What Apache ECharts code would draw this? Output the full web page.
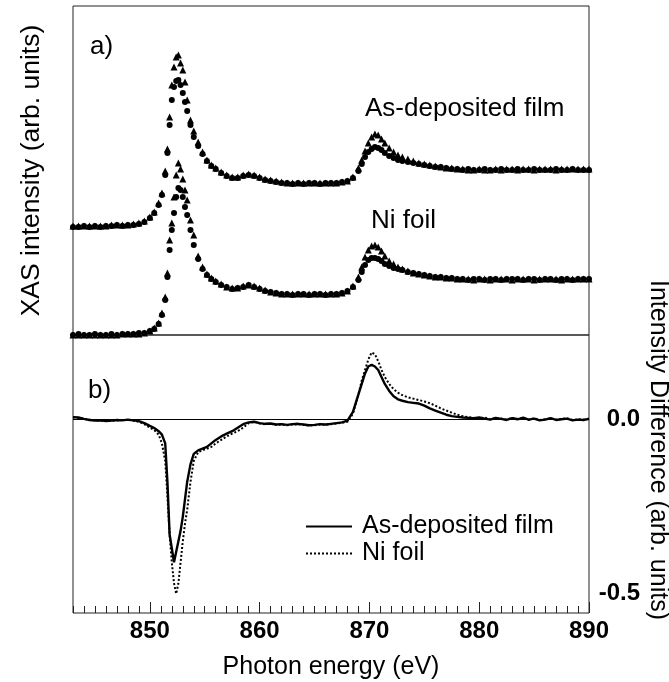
<!DOCTYPE html>
<html>
<head>
<meta charset="utf-8">
<script src="https://cdn.jsdelivr.net/npm/echarts@6.0.0/dist/echarts.min.js"></script>
<style>
  html, body { margin: 0; padding: 0; background: #fff; }
  #chart { width: 669px; height: 682px; }
</style>
</head>
<body>
<div id="chart"></div>
<script>
// photon energy grid (eV), denser around the L3 and L2 edges
const energy = [
  843, 843.5, 844, 844.5, 845, 845.5, 846, 846.5, 847, 847.5, 848, 848.5, 849, 849.5, 850,
  850.4, 850.8, 851.1, 851.4, 851.6, 851.8, 852.0, 852.2, 852.4, 852.6, 852.8, 853.0, 853.2, 853.4,
  853.7, 854.0, 854.4, 854.8, 855.2, 855.6,
  856, 856.5, 857, 857.5, 858, 858.5, 859, 859.5, 860, 860.5, 861, 861.5, 862, 862.5, 863, 863.5,
  864, 864.5, 865, 865.5, 866, 866.5, 867, 867.5, 868, 868.5, 869,
  869.3, 869.6, 869.9, 870.2, 870.5, 870.8, 871.1, 871.4, 871.8, 872.2, 872.6,
  873, 873.5, 874, 874.5, 875, 875.5, 876, 876.5, 877, 877.5, 878, 878.5, 879, 879.5, 880, 880.5,
  881, 881.5, 882, 882.5, 883, 883.5, 884, 884.5, 885, 885.5, 886, 886.5, 887, 887.5, 888, 888.5,
  889, 889.5, 890
]

// panel a) - XAS spectra, as-deposited film is offset upwards
const filmUp = [
  1.09, 1.09, 1.09, 1.09, 1.09, 1.09, 1.09, 1.10, 1.10, 1.10, 1.10, 1.11, 1.12,
  1.14, 1.18, 1.23, 1.32, 1.42, 1.64, 1.86, 2.18, 2.50, 2.68, 2.78, 2.80, 2.72, 2.65, 2.53, 2.35,
  2.15, 2.04, 1.93, 1.83, 1.75, 1.70, 1.67, 1.63, 1.60, 1.58, 1.58, 1.60, 1.61, 1.60,
  1.58, 1.56, 1.55, 1.54, 1.53, 1.52, 1.52, 1.52, 1.52, 1.52, 1.52, 1.52, 1.52, 1.52, 1.52,
  1.53, 1.54, 1.58, 1.67, 1.75, 1.84, 1.92, 1.98, 2.01, 2.00, 1.96, 1.92, 1.87, 1.83, 1.80,
  1.78, 1.76, 1.74, 1.72, 1.71, 1.70, 1.69, 1.68, 1.67, 1.67, 1.66,
  1.66, 1.65, 1.65, 1.66, 1.65, 1.65, 1.66, 1.65, 1.66, 1.66, 1.65, 1.66, 1.66, 1.65, 1.66, 1.66,
  1.66, 1.65, 1.66, 1.66, 1.66, 1.66, 1.66, 1.66
]
const filmDown = [
  1.08, 1.08, 1.09, 1.08, 1.09, 1.08, 1.09, 1.09, 1.10, 1.09, 1.10, 1.10, 1.11,
  1.13, 1.17, 1.22, 1.30, 1.40, 1.60, 1.82, 2.10, 2.35, 2.48, 2.54, 2.55, 2.50, 2.42, 2.33, 2.24,
  2.10, 1.98, 1.89, 1.81, 1.74, 1.69, 1.66, 1.62, 1.59, 1.57, 1.57, 1.59, 1.60, 1.59,
  1.57, 1.55, 1.54, 1.53, 1.52, 1.52, 1.51, 1.52, 1.51, 1.52, 1.52, 1.51, 1.52, 1.52, 1.52,
  1.53, 1.54, 1.57, 1.64, 1.71, 1.78, 1.83, 1.86, 1.88, 1.87, 1.85, 1.82, 1.79, 1.77, 1.75,
  1.74, 1.73, 1.72, 1.71, 1.70, 1.69, 1.68, 1.68, 1.67, 1.66, 1.66,
  1.65, 1.66, 1.65, 1.65, 1.66, 1.65, 1.65, 1.66, 1.65, 1.65, 1.66, 1.65, 1.65, 1.66, 1.65, 1.65,
  1.65, 1.66, 1.65, 1.65, 1.66, 1.65, 1.65, 1.65
]
const foilUp = [
  0.00, 0.00, 0.00, 0.00, 0.00, 0.00, 0.00, 0.00, 0.00, 0.01, 0.01, 0.01, 0.01,
  0.02, 0.04, 0.07, 0.12, 0.22, 0.38, 0.62, 0.95, 1.12, 1.38, 1.60, 1.72, 1.66, 1.56, 1.45, 1.35,
  1.15, 1.00, 0.79, 0.68, 0.61, 0.57, 0.54, 0.51, 0.48, 0.47, 0.47, 0.49, 0.50, 0.49,
  0.47, 0.45, 0.43, 0.42, 0.41, 0.41, 0.41, 0.41, 0.41, 0.41, 0.41, 0.41, 0.41, 0.41, 0.41,
  0.42, 0.44, 0.49, 0.58, 0.68, 0.78, 0.85, 0.89, 0.90, 0.88, 0.84, 0.79, 0.74, 0.71, 0.68,
  0.66, 0.64, 0.62, 0.61, 0.60, 0.59, 0.58, 0.58, 0.57, 0.57, 0.56,
  0.56, 0.56, 0.55, 0.56, 0.56, 0.55, 0.56, 0.56, 0.56, 0.55, 0.56, 0.56, 0.56, 0.55, 0.56, 0.56,
  0.56, 0.56, 0.55, 0.56, 0.56, 0.56, 0.56, 0.56
]
const foilDown = [
  0.00, 0.01, 0.00, 0.00, 0.01, 0.00, 0.00, 0.01, 0.00, 0.01, 0.01, 0.01, 0.02,
  0.02, 0.04, 0.06, 0.11, 0.20, 0.35, 0.58, 0.85, 1.05, 1.22, 1.38, 1.47, 1.45, 1.38, 1.28, 1.20,
  1.05, 0.90, 0.76, 0.66, 0.60, 0.56, 0.53, 0.50, 0.48, 0.46, 0.47, 0.48, 0.50, 0.48,
  0.46, 0.44, 0.43, 0.42, 0.41, 0.41, 0.40, 0.41, 0.41, 0.40, 0.41, 0.41, 0.40, 0.41, 0.41,
  0.42, 0.44, 0.48, 0.55, 0.63, 0.70, 0.75, 0.77, 0.77, 0.76, 0.74, 0.71, 0.69, 0.67, 0.66,
  0.65, 0.63, 0.62, 0.61, 0.60, 0.59, 0.58, 0.58, 0.57, 0.57, 0.56,
  0.56, 0.55, 0.56, 0.56, 0.55, 0.56, 0.56, 0.55, 0.56, 0.56, 0.56, 0.55, 0.56, 0.56, 0.55, 0.56,
  0.56, 0.55, 0.56, 0.56, 0.55, 0.56, 0.56, 0.56
]

// panel b) - intensity difference
const filmDiff = [
  0.005, 0.004, 0.000, -0.003, -0.005, -0.004, -0.006, -0.005, -0.003, -0.004, -0.002, -0.004, -0.006,
  -0.012, -0.020, -0.026, -0.035, -0.045, -0.070, -0.180, -0.330, -0.370, -0.410, -0.380, -0.350,
  -0.320, -0.280, -0.230, -0.180, -0.130, -0.100, -0.090, -0.085, -0.080, -0.070, -0.060, -0.050,
  -0.042, -0.035, -0.025, -0.015, -0.010, -0.008,
  -0.012, -0.014, -0.013, -0.016, -0.015, -0.017, -0.015, -0.014, -0.016, -0.018, -0.017, -0.015,
  -0.016, -0.014, -0.012, -0.010,
  -0.005, 0.020, 0.070, 0.100, 0.130, 0.150, 0.155, 0.150, 0.140, 0.120, 0.100, 0.080, 0.065, 0.056,
  0.052, 0.048, 0.046, 0.044, 0.038, 0.030, 0.024, 0.018, 0.012, 0.008, 0.006, 0.004, 0.003,
  0.002, 0.004, 0.001, -0.002, 0.003, 0.000, -0.003, 0.002, -0.001, 0.004, -0.002, 0.001, -0.004,
  -0.002, 0.002, -0.003, -0.001, 0.001, -0.004, -0.002, -0.003, 0.000
]
const foilDiff = [
  0.005, 0.003, 0.000, -0.002, -0.004, -0.005, -0.004, -0.006, -0.004, -0.003, -0.003, -0.005, -0.008,
  -0.015, -0.025, -0.032, -0.045, -0.070, -0.120, -0.220, -0.330, -0.410, -0.470, -0.500, -0.470,
  -0.410, -0.350, -0.300, -0.260, -0.180, -0.120, -0.095, -0.090, -0.085, -0.080, -0.070, -0.060,
  -0.050, -0.042, -0.035, -0.025, -0.012, -0.008,
  -0.013, -0.015, -0.014, -0.017, -0.016, -0.018, -0.016, -0.015, -0.017, -0.019, -0.018, -0.016,
  -0.017, -0.015, -0.013, -0.011,
  -0.008, 0.015, 0.070, 0.110, 0.140, 0.170, 0.190, 0.185, 0.165, 0.140, 0.120, 0.100, 0.085, 0.075,
  0.068, 0.062, 0.058, 0.054, 0.050, 0.045, 0.038, 0.030, 0.024, 0.018, 0.012, 0.008, 0.005,
  0.003, 0.002, 0.004, -0.001, 0.002, 0.001, -0.002, 0.003, 0.000, 0.002, -0.003, 0.002, -0.003,
  -0.001, 0.001, -0.002, 0.000, 0.002, -0.003, -0.001, -0.002, 0.001
]

const energyTicks = [850, 860, 870, 880, 890]
const diffTicks = [-0.5, 0.0]

const FONT = '"Liberation Sans", Arial, sans-serif'
const pairs = (ys) => energy.map((e, i) => [e, ys[i]])

const chart = echarts.init(document.getElementById('chart'), null, { renderer: 'canvas' })

function markers(name, ys, symbol, size) {
  return {
    name, type: 'scatter', xAxisIndex: 0, yAxisIndex: 0,
    data: pairs(ys), symbol, symbolSize: size,
    itemStyle: { color: '#000', opacity: 1 }, silent: true
  }
}

const option = {
  animation: false,
  backgroundColor: '#fff',
  textStyle: { fontFamily: FONT, color: '#000' },
  grid: [
    { left: 73, top: 6, width: 516, height: 329, show: true, borderColor: '#222', borderWidth: 1, outerBoundsMode: 'none' },
    { left: 73, top: 335, width: 516, height: 278, show: true, borderColor: '#222', borderWidth: 1, outerBoundsMode: 'none' }
  ],
  xAxis: [
    { gridIndex: 0, type: 'value', min: 843, max: 890, show: false },
    // minor ticks every 1 eV
    {
      gridIndex: 1, type: 'value', min: 843, max: 890, interval: 1, position: 'bottom',
      axisLine: { show: false, onZero: false }, splitLine: { show: false },
      axisTick: { inside: true, length: 7, lineStyle: { color: '#222' } },
      axisLabel: { show: false }
    },
    // labelled ticks
    {
      gridIndex: 1, type: 'value', min: 843, max: 890, position: 'bottom', offset: 0,
      axisLine: { show: false, onZero: false }, splitLine: { show: false },
      axisTick: { show: true, inside: true, length: 11, customValues: energyTicks, lineStyle: { color: '#222', width: 1 } },
      axisLabel: { customValues: energyTicks, fontSize: 24, fontWeight: 'bold', color: '#000', margin: 6, fontFamily: FONT },
      name: 'Photon energy (eV)', nameLocation: 'middle', nameGap: 42,
      nameTextStyle: { fontSize: 25, color: '#000', fontFamily: FONT }
    }
  ],
  yAxis: [
    {
      gridIndex: 0, type: 'value', min: 0, max: 3.29,
      axisLine: { show: false }, axisTick: { show: false }, axisLabel: { show: false }, splitLine: { show: false },
      name: 'XAS intensity (arb. units)', nameLocation: 'middle', nameGap: 28,
      nameTextStyle: { fontSize: 26.5, color: '#000', fontFamily: FONT }
    },
    {
      gridIndex: 1, type: 'value', position: 'right', min: -0.555, max: 0.24,
      axisLine: { show: false, onZero: false }, axisTick: { show: false }, splitLine: { show: false },
      axisLabel: {
        customValues: diffTicks, formatter: (v) => v.toFixed(1),
        fontSize: 24, fontWeight: 'bold', color: '#000', align: 'right', margin: 51, fontFamily: FONT
      }
    }
  ],
  legend: {
    data: ['As-deposited film', 'Ni foil'],
    orient: 'vertical', left: 300, top: 509,
    itemWidth: 46, itemHeight: 14, itemGap: 2,
    itemStyle: { opacity: 0 },
    textStyle: { fontSize: 25, color: '#000', fontFamily: FONT, padding: [0, 0, 0, 5] },
    selectedMode: false
  },
  graphic: [
    { type: 'text', left: 90, top: 34, style: { text: 'a)', fontSize: 26, fontFamily: FONT, fill: '#000' } },
    { type: 'text', left: 88, top: 378, style: { text: 'b)', fontSize: 26, fontFamily: FONT, fill: '#000' } },
    { type: 'text', left: 365, top: 96, style: { text: 'As-deposited film', fontSize: 26, fontFamily: FONT, fill: '#000' } },
    { type: 'text', left: 371, top: 208, style: { text: 'Ni foil', fontSize: 26, fontFamily: FONT, fill: '#000' } },
    {
      type: 'text', x: 658, y: 450, rotation: -Math.PI / 2,
      style: { text: 'Intensity Difference (arb. units)', fontSize: 25, fontFamily: FONT, fill: '#000', align: 'center', verticalAlign: 'middle' }
    }
  ],
  series: [
    markers('film spectrum 1', filmUp, 'triangle', 7),
    markers('film spectrum 2', filmDown, 'circle', 6),
    markers('foil spectrum 1', foilUp, 'triangle', 7),
    markers('foil spectrum 2', foilDown, 'circle', 6),
    {
      name: 'As-deposited film', type: 'line', xAxisIndex: 1, yAxisIndex: 1,
      data: pairs(filmDiff), symbol: 'none', showSymbol: false,
      lineStyle: { color: '#000', width: 2.4, type: 'solid' },
      itemStyle: { color: '#000' },
      markLine: {
        silent: true, symbol: 'none', label: { show: false },
        lineStyle: { color: '#000', width: 1, type: 'solid' },
        data: [{ yAxis: 0 }]
      }
    },
    {
      name: 'Ni foil', type: 'line', xAxisIndex: 1, yAxisIndex: 1,
      data: pairs(foilDiff), symbol: 'none', showSymbol: false,
      lineStyle: { color: '#000', width: 2, type: 'dotted' },
      itemStyle: { color: '#000' }
    }
  ]
}

chart.setOption(option)
</script>
</body>
</html>
